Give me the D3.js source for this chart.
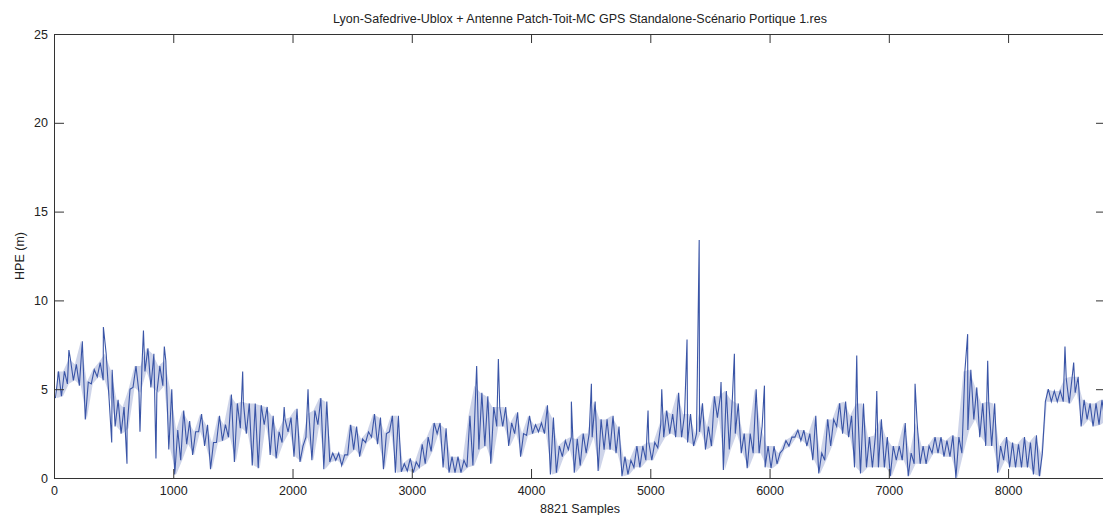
<!DOCTYPE html>
<html lang="fr">
<head>
  <meta charset="UTF-8">
  <title>HPE - Lyon-Safedrive-Ublox</title>
  <script src="https://d3js.org/d3.v7.min.js"></script>
  <style>
    body {
      margin: 0;
      background: #fff;
      font-family: Arial, "Liberation Sans", sans-serif;
    }
    svg { display: block; }
  </style>
</head>
<body>
<svg id="chart" width="1103" height="515"></svg>

<script>
  // HPE (m), as low/high envelope per block of 50 samples
  const nSamples = 8821;
  const blockSize = 50;

  const hpeLow = [
    4.5, 4.6, 5.3, 5.5, 5.2, 3.3, 5.3, 5.7, 5.5, 4.4, 2.9, 2.5, 2.8, 5.1, 4.8, 6.0, 5.1, 4.8, 5.2, 1.6,
    0.2, 1.0, 1.9, 1.3, 2.6, 1.8, 0.5, 2.0, 2.1, 2.3, 0.9, 2.8, 2.5, 0.7, 0.55, 3.0, 1.3, 1.1, 2.0, 2.6,
    1.2, 0.9, 2.3, 1.0, 3.0, 0.5, 0.9, 1.0, 0.7, 1.3, 1.6, 1.2, 2.0, 2.3, 1.9, 0.5, 2.6, 0.3, 0.35, 0.4,
    0.3, 0.6, 0.8, 1.5, 2.5, 0.6, 0.3, 0.3, 0.3, 0.6, 0.7, 1.6, 1.8, 0.8, 2.9, 2.9, 1.8, 2.5, 1.2, 2.4,
    2.5, 2.6, 2.5, 0.2, 0.3, 1.2, 1.6, 0.3, 0.7, 1.4, 2.3, 0.4, 1.6, 1.6, 1.4, 0.1, 0.2, 0.6, 0.6, 1.0,
    1.0, 1.7, 2.3, 2.5, 2.3, 2.3, 2.0, 1.8, 2.6, 1.6, 1.8, 3.4, 0.45, 1.6, 2.5, 1.4, 0.55, 1.4, 1.4, 0.6,
    0.55, 0.8, 1.6, 1.8, 2.3, 2.1, 1.8, 1.0, 0.26, 1.0, 1.8, 2.9, 2.5, 2.3, 0.6, 0.26, 0.6, 0.6, 0.6, 0.6,
    0.1, 1.0, 1.0, 0.1, 0.8, 0.8, 0.8, 1.4, 1.4, 1.2, 1.2, 0.0, 1.4, 2.7, 3.3, 2.3, 1.8, 1.8, 0.3, 1.0,
    0.6, 0.6, 0.6, 0.6, 0.2, 0.1, 4.3, 4.3, 4.3, 4.3, 4.2, 4.8, 2.9, 3.3, 2.9, 3.0, 3.2
  ];

  const hpeHigh = [
    6.0, 6.0, 6.7, 6.4, 7.7, 5.4, 6.1, 6.5, 7.0, 6.1, 4.4, 4.0, 5.0, 6.3, 6.3, 7.3, 7.0, 6.3, 6.6, 5.0,
    2.7, 3.8, 3.2, 2.6, 3.6, 3.0, 2.0, 3.5, 3.0, 4.7, 4.2, 4.3, 4.2, 4.2, 4.1, 4.0, 3.5, 2.6, 3.3, 3.4,
    3.9, 1.8, 3.6, 3.8, 4.5, 4.3, 1.4, 1.4, 1.3, 3.0, 2.9, 2.2, 2.6, 3.6, 3.4, 2.5, 3.5, 3.5, 0.8, 1.1,
    0.9, 1.9, 2.3, 3.1, 3.1, 2.8, 1.2, 1.2, 1.0, 3.5, 5.2, 4.8, 4.6, 4.0, 4.0, 4.0, 3.1, 3.7, 2.5, 3.5,
    3.0, 3.1, 4.1, 3.4, 1.8, 2.1, 2.3, 2.2, 2.5, 2.5, 4.3, 3.3, 3.3, 3.5, 2.9, 1.2, 1.0, 1.8, 1.8, 2.0,
    2.0, 3.0, 3.8, 3.6, 4.8, 3.6, 3.6, 2.5, 4.2, 2.9, 4.6, 4.6, 4.9, 4.4, 4.2, 2.5, 2.5, 5.0, 2.9, 1.8,
    1.8, 1.4, 2.1, 2.3, 2.7, 2.7, 2.5, 3.5, 1.4, 3.3, 3.3, 4.2, 4.3, 3.5, 4.2, 4.2, 2.3, 2.4, 3.3, 2.3,
    1.8, 1.8, 3.1, 1.4, 3.1, 1.8, 1.8, 2.3, 2.3, 2.1, 2.4, 2.3, 6.0, 6.1, 5.1, 4.2, 4.3, 4.2, 1.8, 2.3,
    2.0, 1.9, 2.3, 2.0, 2.4, 1.4, 5.0, 4.9, 4.9, 5.6, 5.7, 5.7, 4.4, 4.2, 4.2, 4.4, 4.0
  ];

  // isolated single-sample peaks / drops
  const spikeSamples = [125, 414, 484, 612, 721, 750, 855, 925, 1582, 1930, 2130, 3544, 3726, 4338,
    4506, 4981, 5096, 5308, 5410, 5593, 5705, 5957, 6731, 6899, 7220, 7661, 7829, 8477, 8550];
  const spikeValues = [7.2, 8.5, 2.0, 0.8, 2.6, 8.3, 1.1, 7.4, 6.0, 4.0, 5.0, 6.3, 6.7, 4.3,
    5.3, 3.8, 5.0, 7.8, 13.4, 5.4, 7.0, 5.2, 6.9, 4.9, 5.3, 8.1, 6.6, 7.4, 6.5];

  const xTicks = [0, 1000, 2000, 3000, 4000, 5000, 6000, 7000, 8000];
  const yTicks = [0, 5, 10, 15, 20, 25];

  const titleText = "Lyon-Safedrive-Ublox + Antenne Patch-Toit-MC GPS Standalone-Scénario Portique 1.res";
  const xLabel = "8821 Samples";
  const yLabel = "HPE (m)";

  const lineColor = "#3a55a7";

  // envelope blocks and the trace: low then high inside each block, plus spikes
  const blocks = hpeLow.map((lo, i) => ({
    s: Math.min(i * blockSize + blockSize / 2, nSamples - 1),
    lo: lo,
    hi: hpeHigh[i]
  }));

  const points = [];
  hpeLow.forEach((lo, i) => {
    const s0 = Math.min(i * blockSize + blockSize * 0.25, nSamples - 1);
    const s1 = Math.min(i * blockSize + blockSize * 0.75, nSamples - 1);
    points.push({ s: s0, v: lo });
    points.push({ s: s1, v: hpeHigh[i] });
  });
  spikeSamples.forEach((s, i) => points.push({ s: s, v: spikeValues[i] }));
  points.sort((a, b) => a.s - b.s);

  const svg = d3.select("#chart");
  const margin = { top: 34, left: 54, bottom: 37 };
  const plotBottom = 515 - margin.bottom;
  const plotRight = 1106;

  const x = d3.scaleLinear()
    .domain([0, nSamples])
    .range([margin.left, plotRight]);

  const y = d3.scaleLinear()
    .domain([0, 25])
    .range([plotBottom, margin.top]);

  // dense noise band (min/max of each block)
  const band = d3.area()
    .x(d => x(d.s))
    .y0(d => y(d.lo))
    .y1(d => y(d.hi));

  svg.append("path")
    .datum(blocks)
    .attr("d", band)
    .attr("fill", lineColor)
    .attr("fill-opacity", 0.25);

  // data line
  const line = d3.line()
    .x(d => x(d.s))
    .y(d => y(d.v));

  svg.append("path")
    .datum(points)
    .attr("d", line)
    .attr("fill", "none")
    .attr("stroke", lineColor)
    .attr("stroke-width", 1.1);

  // axes, MATLAB style: box with inward ticks
  const axisColor = "#333";

  function styleAxis(g) {
    g.selectAll("path, line").attr("stroke", axisColor);
    g.selectAll("text")
      .attr("fill", "#222")
      .style("font-family", "Arial, 'Liberation Sans', sans-serif")
      .style("font-size", "12.5px");
  }

  svg.append("g")
    .attr("transform", `translate(0,${plotBottom})`)
    .call(d3.axisBottom(x).tickValues(xTicks).tickSizeInner(-9).tickSizeOuter(0).tickPadding(8)
      .tickFormat(d3.format("d")))
    .call(styleAxis);

  svg.append("g")
    .attr("transform", `translate(0,${margin.top})`)
    .call(d3.axisTop(x).tickValues(xTicks).tickSizeInner(-9).tickSizeOuter(0).tickFormat(""))
    .call(styleAxis);

  svg.append("g")
    .attr("transform", `translate(${margin.left},0)`)
    .call(d3.axisLeft(y).tickValues(yTicks).tickSizeInner(-10).tickSizeOuter(0).tickPadding(6))
    .call(styleAxis);

  svg.append("g")
    .attr("transform", `translate(${plotRight},0)`)
    .call(d3.axisRight(y).tickValues(yTicks).tickSizeInner(-10).tickSizeOuter(0).tickFormat(""))
    .call(styleAxis);

  // labels
  const midX = (margin.left + plotRight) / 2;

  svg.append("text")
    .attr("x", midX)
    .attr("y", 23)
    .attr("text-anchor", "middle")
    .attr("fill", "#222")
    .style("font-size", "12.5px")
    .text(titleText);

  svg.append("text")
    .attr("x", midX)
    .attr("y", 513)
    .attr("text-anchor", "middle")
    .attr("fill", "#222")
    .style("font-size", "12.5px")
    .text(xLabel);

  svg.append("text")
    .attr("transform", `translate(24,${(margin.top + plotBottom) / 2}) rotate(-90)`)
    .attr("text-anchor", "middle")
    .attr("fill", "#222")
    .style("font-size", "12.5px")
    .text(yLabel);
</script>
</body>
</html>
